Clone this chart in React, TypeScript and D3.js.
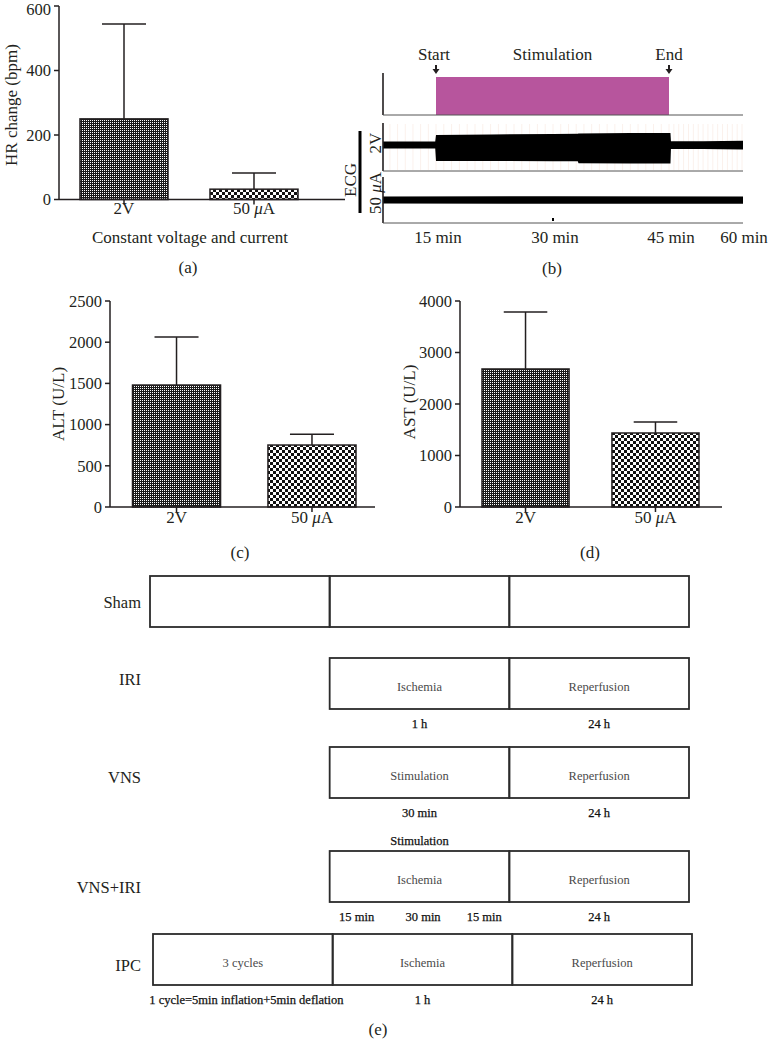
import React from 'react';
import * as d3 from 'd3';

// ---------- data ----------
const groups = ['2V', '50 μA'];
const hrMean = [250, 32];
const hrErrTop = [544, 82];
const hrTicks = [0, 200, 400, 600];
const altMean = [1480, 752];
const altErrTop = [2062, 883];
const altTicks = [0, 500, 1000, 1500, 2000, 2500];
const astMean = [2680, 1437];
const astErrTop = [3786, 1650];
const astTicks = [0, 1000, 2000, 3000, 4000];

// ECG panel (time in minutes)
const timeLabels = [15, 30, 45, 60];
const stimStart = 15;
const stimEnd = 45;
const markerTime = 30;
const ecg2VTime = [8.1, 14.9, 15.0, 22, 30, 33.2, 33.3, 40, 45.3, 45.4, 52, 60.2];
const ecg2VUpper = [0.34, 0.36, 1.0, 1.05, 1.1, 1.12, 1.14, 1.2, 1.2, 0.38, 0.38, 0.42];
const ecg2VLower = [-0.36, -0.36, -1.6, -1.6, -1.62, -1.62, -1.82, -1.85, -1.85, -0.4, -0.4, -0.45];
const ecg50Time = [8.1, 30, 60.2];
const ecg50Upper = [0.35, 0.37, 0.36];
const ecg50Lower = [-0.36, -0.38, -0.37];

// Protocol panel (phase units: 0..3)
const protocolRows = ['Sham', 'IRI', 'VNS', 'VNS+IRI', 'IPC'];
const segStarts = [[0, 1, 2], [1, 2], [1, 2], [1, 2], [0, 1, 2]];
const segLabels = [
  ['', '', ''],
  ['Ischemia', 'Reperfusion'],
  ['Stimulation', 'Reperfusion'],
  ['Ischemia', 'Reperfusion'],
  ['3 cycles', 'Ischemia', 'Reperfusion'],
];
const durPos = [[], [1.5, 2.5], [1.5, 2.5], [1.15, 1.52, 1.86, 2.5], [0.52, 1.5, 2.5]];
const durText = [
  [],
  ['1 h', '24 h'],
  ['30 min', '24 h'],
  ['15 min', '30 min', '15 min', '24 h'],
  ['1 cycle=5min inflation+5min deflation', '1 h', '24 h'],
];
const aboveRow = 3;
const aboveText = 'Stimulation';
const abovePos = 1.5;

// ---------- layout ----------
const FONT = "'Liberation Serif', 'DejaVu Serif', serif";
const INK = '#231f20';
const FS = 17;
const FS_TICK = 16.5;
const rowTop = [576, 658, 747, 851, 934];
const rowLabelY = [602, 679, 777, 887, 965];
const rowShift = [0, 0, 0, 0, 3];
const boxH = 51;

function GroupLabel({ text, x, y }: { text: string; x: number; y: number }) {
  const parts = text.split('μ');
  return (
    <text x={x} y={y} textAnchor="middle" fontSize={FS} fontFamily={FONT} fill={INK}>
      {parts.length > 1 ? (
        <>
          {parts[0]}
          <tspan fontStyle="italic">μ</tspan>
          {parts[1]}
        </>
      ) : (
        text
      )}
    </text>
  );
}

function BarPanel(props: any) {
  const { mean, errTop, ticks, axisX, yTopPx, yZeroPx, xEndPx, bandRange, padInner, yLabel, yLabelX, yLabelY, xLabelY } = props;
  const y = d3.scaleLinear().domain([0, ticks[ticks.length - 1]]).range([yZeroPx, yTopPx]);
  const x = d3.scaleBand().domain(groups).range(bandRange).paddingInner(padInner).paddingOuter(0);
  const bw = x.bandwidth();
  const pats = ['url(#patFine)', 'url(#patCheck)'];
  return (
    <g>
      {groups.map((g, i) => {
        const x0 = x(g) as number;
        const cx = x0 + bw / 2;
        return (
          <g key={g}>
            <line x1={cx} x2={cx} y1={y(mean[i])} y2={y(errTop[i])} stroke={INK} strokeWidth={1.5} />
            <line x1={cx - bw / 4} x2={cx + bw / 4} y1={y(errTop[i])} y2={y(errTop[i])} stroke={INK} strokeWidth={1.5} />
            <rect x={x0} y={y(mean[i])} width={bw} height={y(0) - y(mean[i])} fill={pats[i]} stroke={INK} strokeWidth={1.5} />
            <line x1={cx} x2={cx} y1={y(0)} y2={y(0) + 5} stroke={INK} strokeWidth={1.5} />
            <GroupLabel text={g} x={cx} y={xLabelY} />
          </g>
        );
      })}
      <line x1={axisX} x2={axisX} y1={y(0)} y2={y(ticks[ticks.length - 1])} stroke={INK} strokeWidth={1.5} />
      <line x1={axisX} x2={xEndPx} y1={y(0)} y2={y(0)} stroke={INK} strokeWidth={1.5} />
      {ticks.map((t: number) => (
        <g key={t}>
          <line x1={axisX - 5} x2={axisX} y1={y(t)} y2={y(t)} stroke={INK} strokeWidth={1.5} />
          <text x={axisX - 8} y={Math.max(y(t), 9)} dy="0.35em" textAnchor="end" fontSize={FS_TICK} fontFamily={FONT} fill={INK}>
            {t}
          </text>
        </g>
      ))}
      <text
        transform={`translate(${yLabelX},${yLabelY}) rotate(-90)`}
        textAnchor="middle"
        dy="0.35em"
        fontSize={FS}
        fontFamily={FONT}
        fill={INK}
      >
        {yLabel}
      </text>
    </g>
  );
}

function EcgPanel() {
  const tx = d3.scaleLinear().domain([8.1, 15, 30, 45, 60.2]).range([383, 436, 553, 669, 743]);
  const y2V = d3.scaleLinear().domain([-1, 1]).range([155, 135]);
  const y50 = d3.scaleLinear().domain([-1, 1]).range([210, 190]);
  const area2V = d3
    .area<number>()
    .x((_, i) => tx(ecg2VTime[i]))
    .y0((_, i) => y2V(ecg2VLower[i]))
    .y1((_, i) => y2V(ecg2VUpper[i]));
  const area50 = d3
    .area<number>()
    .x((_, i) => tx(ecg50Time[i]))
    .y0((_, i) => y50(ecg50Lower[i]))
    .y1((_, i) => y50(ecg50Upper[i]));
  const gridTimes = d3.range(9, 61, 1);
  const arrow = (x: number) => `M${x - 1},65 h2 v4 h2.5 l-3.5,5 l-3.5,-5 h2.5 z`;
  return (
    <g>
      {/* stimulation row */}
      <rect x={tx(stimStart)} y={77} width={tx(stimEnd) - tx(stimStart)} height={38} fill="#b7559d" />
      <line x1={383} x2={383} y1={73} y2={115} stroke={INK} strokeWidth={1.6} />
      <line x1={383} x2={743} y1={115} y2={115} stroke="#555" strokeWidth={1} />
      <path d={arrow(tx(stimStart))} fill={INK} />
      <path d={arrow(tx(stimEnd))} fill={INK} />
      <text x={tx(stimStart) - 2} y={60} textAnchor="middle" fontSize={FS} fontFamily={FONT} fill={INK}>Start</text>
      <text x={(tx(stimStart) + tx(stimEnd)) / 2} y={60} textAnchor="middle" fontSize={FS} fontFamily={FONT} fill={INK}>Stimulation</text>
      <text x={tx(stimEnd)} y={60} textAnchor="middle" fontSize={FS} fontFamily={FONT} fill={INK}>End</text>

      {/* 2V trace */}
      {gridTimes.map((t) => (
        <line key={t} x1={tx(t)} x2={tx(t)} y1={124} y2={170} stroke="#fbf1ec" strokeWidth={1} />
      ))}
      <path d={area2V(ecg2VTime) || ''} fill="#000" />
      <line x1={383} x2={383} y1={123} y2={171} stroke={INK} strokeWidth={1.6} />
      <line x1={383} x2={743} y1={171} y2={171} stroke="#555" strokeWidth={1} />

      {/* 50 uA trace */}
      <path d={area50(ecg50Time) || ''} fill="#000" />
      <line x1={tx(markerTime)} x2={tx(markerTime)} y1={218} y2={221} stroke="#000" strokeWidth={2} />
      <line x1={383} x2={383} y1={177} y2={223} stroke={INK} strokeWidth={1.6} />
      <line x1={383} x2={743} y1={223} y2={223} stroke="#555" strokeWidth={1} />

      {/* left labels */}
      <line x1={360} x2={360} y1={131} y2={213} stroke="#000" strokeWidth={3} />
      <text transform="translate(350,180) rotate(-90)" textAnchor="middle" dy="0.35em" fontSize={FS} fontFamily={FONT} fill={INK}>ECG</text>
      <text transform="translate(375,143) rotate(-90)" textAnchor="middle" dy="0.35em" fontSize={FS} fontFamily={FONT} fill={INK}>2V</text>
      <text transform="translate(375,193) rotate(-90)" textAnchor="middle" dy="0.35em" fontSize={FS} fontFamily={FONT} fill={INK}>
        50 <tspan fontStyle="italic">μ</tspan>A
      </text>

      {timeLabels.map((t) => (
        <text key={t} x={tx(t) + 2} y={243} textAnchor="middle" fontSize={FS} fontFamily={FONT} fill={INK}>
          {t} min
        </text>
      ))}
    </g>
  );
}

function ProtocolPanel() {
  const px = d3.scaleLinear().domain([0, 3]).range([150, 689]);
  return (
    <g>
      {protocolRows.map((row, r) => {
        const top = rowTop[r];
        const sh = rowShift[r];
        return (
          <g key={row}>
            <text x={141} y={rowLabelY[r]} dy="0.35em" textAnchor="end" fontSize={16.5} fontFamily={FONT} fill={INK}>
              {row}
            </text>
            {segStarts[r].map((s, k) => (
              <g key={k}>
                <rect x={px(s) + sh} y={top} width={px(s + 1) - px(s)} height={boxH} fill="none" stroke="#2b2b2b" strokeWidth={1.8} />
                {segLabels[r][k] && (
                  <text x={px(s + 0.5) + sh} y={top + boxH / 2 + 3} dy="0.35em" textAnchor="middle" fontSize={12.5} fontFamily={FONT} fill="#4a4a4a">
                    {segLabels[r][k]}
                  </text>
                )}
              </g>
            ))}
            {durPos[r].map((p, k) => (
              <text key={k} x={px(p) + sh} y={top + boxH + 15} dy="0.35em" textAnchor="middle" fontSize={12.5} fontFamily={FONT} fill="#111" stroke="#111" strokeWidth={0.25}>
                {durText[r][k]}
              </text>
            ))}
            {r === aboveRow && (
              <text x={px(abovePos)} y={top - 10} dy="0.35em" textAnchor="middle" fontSize={12.5} fontFamily={FONT} fill="#111" stroke="#111" strokeWidth={0.25}>
                {aboveText}
              </text>
            )}
          </g>
        );
      })}
    </g>
  );
}

export default function App() {
  return (
    <svg width={770} height={1050} style={{ position: 'absolute', left: 0, top: 0, background: '#fff' }}>
      <defs>
        <pattern id="patFine" patternUnits="userSpaceOnUse" width={2} height={2}>
          <rect width={2} height={2} fill="#1a1a1a" />
          <rect x={0} y={0} width={1} height={1} fill="#fff" />
        </pattern>
        <pattern id="patCheck" patternUnits="userSpaceOnUse" width={6} height={6}>
          <rect width={6} height={6} fill="#fff" />
          <rect x={0} y={0} width={3} height={3} fill="#111" />
          <rect x={3} y={3} width={3} height={3} fill="#111" />
        </pattern>
      </defs>
      <rect width={770} height={1050} fill="#fff" />

      {/* (a) */}
      <BarPanel
        mean={hrMean}
        errTop={hrErrTop}
        ticks={hrTicks}
        axisX={59}
        yTopPx={6}
        yZeroPx={199.5}
        xEndPx={345}
        bandRange={[80, 298]}
        padInner={0.323}
        yLabel="HR change (bpm)"
        yLabelX={11}
        yLabelY={105}
        xLabelY={214}
      />
      <text x={190} y={243} textAnchor="middle" fontSize={FS} fontFamily={FONT} fill={INK}>Constant voltage and current</text>
      <text x={188} y={273} textAnchor="middle" fontSize={FS} fontFamily={FONT} fill={INK}>(a)</text>

      {/* (b) */}
      <EcgPanel />
      <text x={552} y={274} textAnchor="middle" fontSize={FS} fontFamily={FONT} fill={INK}>(b)</text>

      {/* (c) */}
      <BarPanel
        mean={altMean}
        errTop={altErrTop}
        ticks={altTicks}
        axisX={110}
        yTopPx={301}
        yZeroPx={507}
        xEndPx={375}
        bandRange={[132.5, 356]}
        padInner={0.35}
        yLabel="ALT (U/L)"
        yLabelX={58}
        yLabelY={404}
        xLabelY={523}
      />
      <text x={240} y={558} textAnchor="middle" fontSize={FS} fontFamily={FONT} fill={INK}>(c)</text>

      {/* (d) */}
      <BarPanel
        mean={astMean}
        errTop={astErrTop}
        ticks={astTicks}
        axisX={460}
        yTopPx={301}
        yZeroPx={507}
        xEndPx={722}
        bandRange={[482, 699]}
        padInner={0.33}
        yLabel="AST (U/L)"
        yLabelX={409}
        yLabelY={402}
        xLabelY={523}
      />
      <text x={590} y={558} textAnchor="middle" fontSize={FS} fontFamily={FONT} fill={INK}>(d)</text>

      {/* (e) */}
      <ProtocolPanel />
      <text x={378} y={1035} textAnchor="middle" fontSize={FS} fontFamily={FONT} fill={INK}>(e)</text>
    </svg>
  );
}
